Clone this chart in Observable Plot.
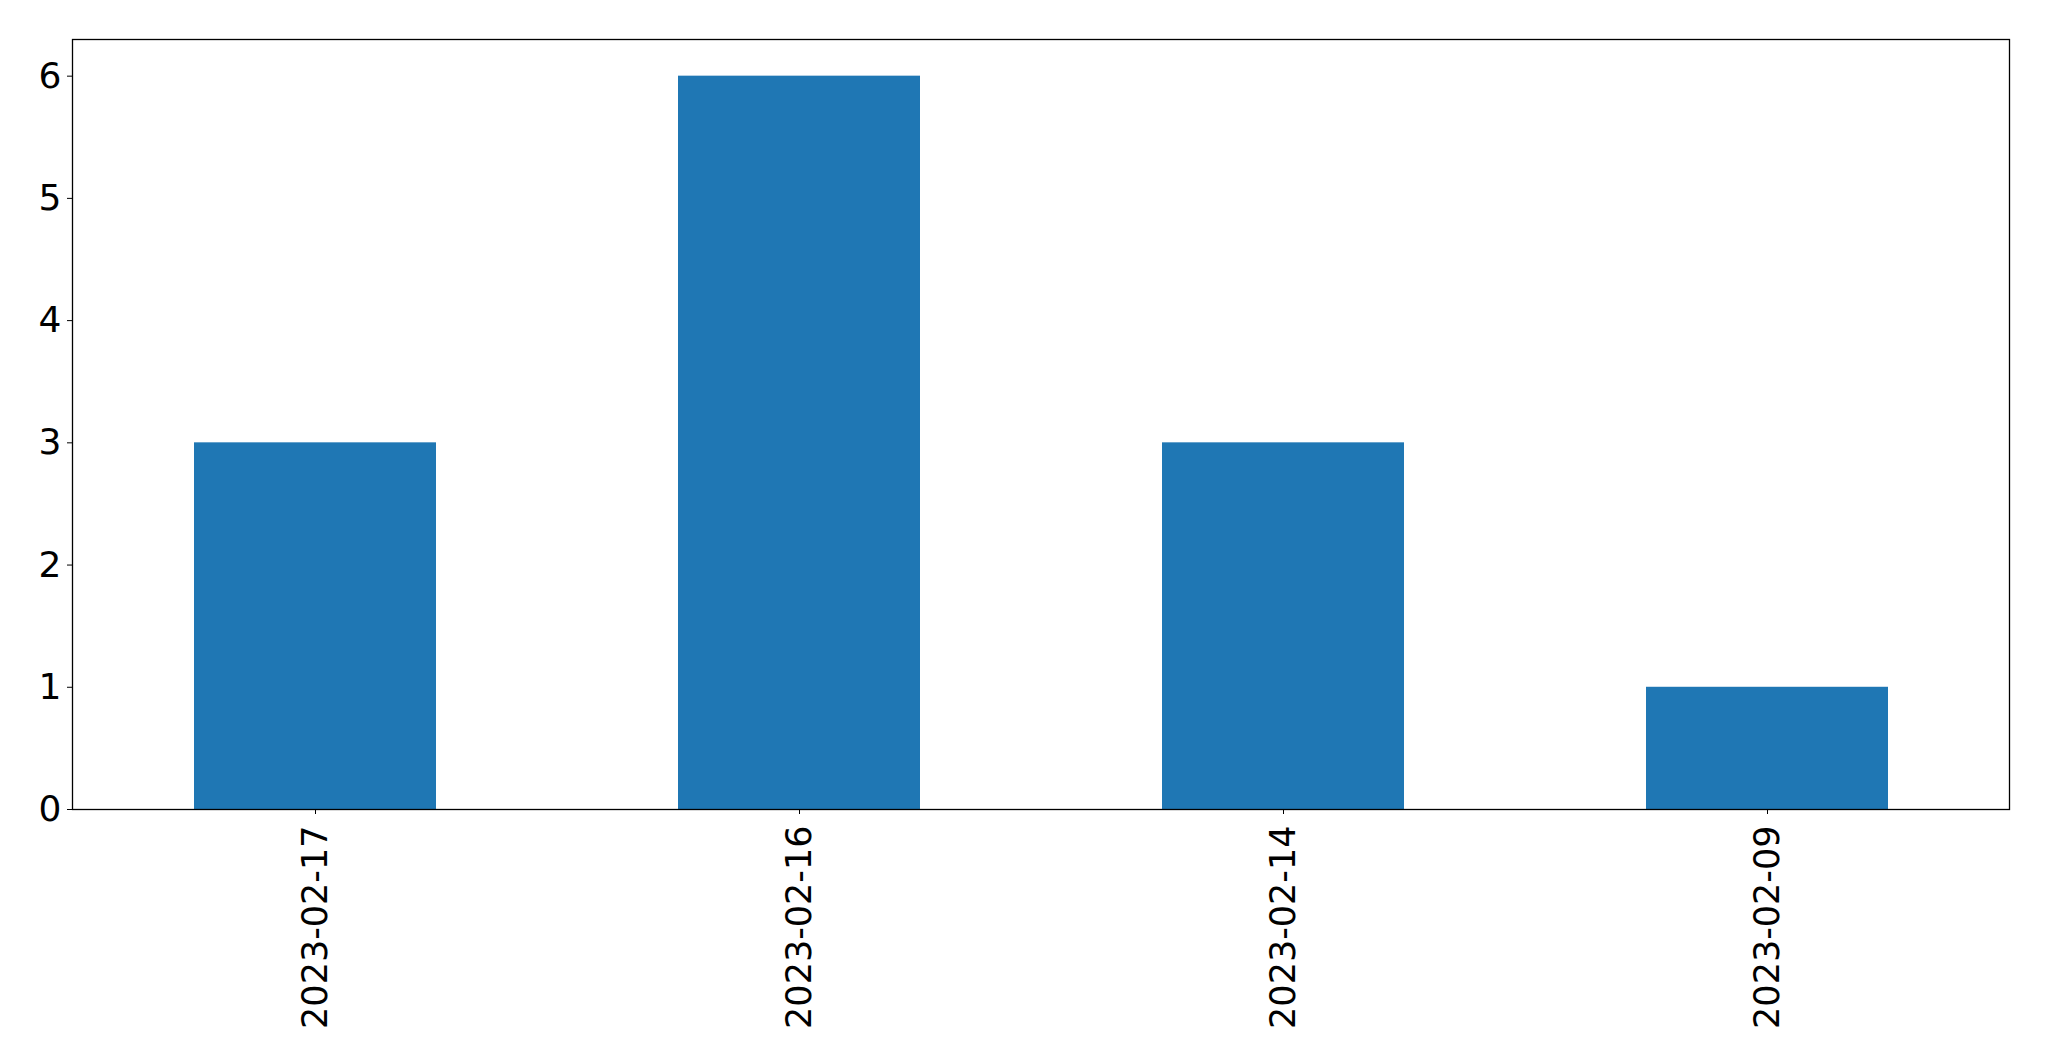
<!DOCTYPE html>
<html>
<head>
<meta charset="utf-8">
<script src="https://cdn.jsdelivr.net/npm/d3@7"></script>
<script src="https://cdn.jsdelivr.net/npm/@observablehq/plot@0.6"></script>
<style>
  html, body { margin: 0; padding: 0; background: white; }
</style>
</head>
<body>
<div id="chart"></div>
<script>
const dates = ["2023-02-17", "2023-02-16", "2023-02-14", "2023-02-09"];
const counts = [3, 6, 3, 1];
const yTicks = [0, 1, 2, 3, 4, 5, 6];

const data = dates.map((d, i) => ({date: d, count: counts[i]}));

const chart = Plot.plot({
  width: 2049,
  height: 1061,
  marginLeft: 72,
  marginRight: 40,
  marginTop: 39,
  marginBottom: 252,
  style: {fontFamily: "DejaVu Sans", fontSize: "35px", background: "white", color: "black"},
  x: {domain: dates, paddingInner: 0.5, paddingOuter: 0.25, label: null},
  y: {domain: [0, 6.3], label: null},
  marks: [
    Plot.barY(data, {x: "date", y: "count", fill: "#1f77b4"}),
    Plot.frame({stroke: "black", strokeWidth: 1.3}),
    Plot.axisX({tickRotate: -90, tickSize: 5, tickPadding: 11, label: null, fontSize: 35}),
    Plot.axisY({ticks: yTicks, tickSize: 5, tickPadding: 6, label: null, fontSize: 36, tickFormat: d3.format("d")})
  ]
});
document.getElementById("chart").appendChild(chart);
</script>
</body>
</html>
